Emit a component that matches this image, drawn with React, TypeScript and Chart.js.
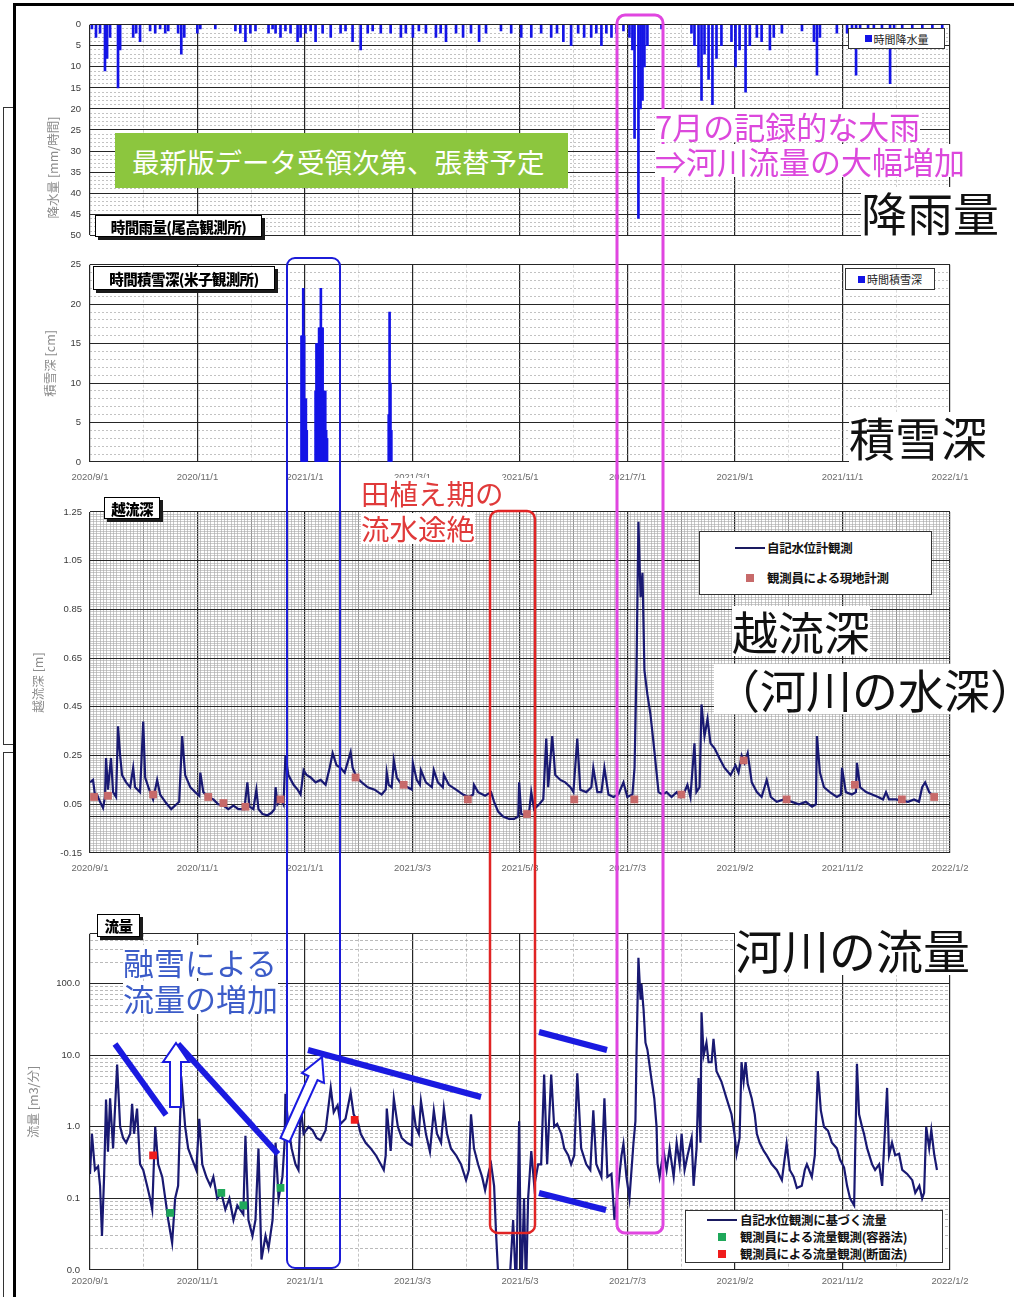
import React, { useEffect, useRef } from "react";
import { Chart, registerables } from "chart.js";

Chart.register(...registerables);
Chart.defaults.font.family = "'Liberation Sans', 'Noto Sans CJK JP', sans-serif";

// ---------------- data ----------------
// x values are days counted from 2020/9/1
const DAY_MAX = 488; // 2022/1/2

const snowXLabels = ["2020/9/1", "2020/11/1", "2021/1/1", "2021/3/1", "2021/5/1", "2021/7/1", "2021/9/1", "2021/11/1", "2022/1/1"];
const depthXLabels = ["2020/9/1", "2020/11/1", "2021/1/1", "2021/3/3", "2021/5/3", "2021/7/3", "2021/9/2", "2021/11/2", "2022/1/2"];
const flowXLabels = ["2020/9/1", "2020/11/1", "2021/1/1", "2021/3/3", "2021/5/3", "2021/7/3", "2021/9/2", "2021/11/2", "2022/1/2"];

const rainYLabels = ["0", "5", "10", "15", "20", "25", "30", "35", "40", "45", "50"];
const snowYLabels = ["0", "5", "10", "15", "20", "25"];
const depthYLabels = ["-0.15", "0.05", "0.25", "0.45", "0.65", "0.85", "1.05", "1.25"];
const flowYLabels = ["0.0", "0.1", "1.0", "10.0", "100.0"];

type Pt = [number, number];

// hourly rainfall [mm/h]
const rainData: Pt[] = [
  [1.1, 1], [3.4, 3], [5.7, 2], [8.5, 11], [9.7, 8], [11.4, 3], [15.9, 15], [17.1, 6], [24.5, 3], [26.2, 2],
  [28.4, 4], [34.1, 1.5], [37, 2], [39.8, 1], [42.7, 2], [44.4, 1.5], [50, 2], [51.8, 7], [53.5, 3], [60.9, 2],
  [62.6, 1], [71.1, 1], [82.5, 1.5], [85.3, 2], [88.2, 4], [91, 2], [93.9, 1.5], [101.3, 2], [103.6, 1], [105.3, 2],
  [108.1, 3], [110.9, 1.5], [113.8, 2], [117.8, 4], [119.5, 3], [122.3, 2], [125.2, 1.5], [128, 4], [132, 2], [136.6, 3],
  [142.2, 2], [145, 1.5], [149, 4], [153.6, 6], [157.6, 2], [160.4, 1.5], [165, 2], [170.6, 2], [176.4, 3], [179.2, 2],
  [183.2, 3], [186.6, 1.5], [190.6, 2], [196.3, 3], [199, 2], [202, 4], [207.7, 2], [211.7, 3], [216.2, 2], [220.8, 4],
  [224.7, 2], [233.2, 1.5], [239, 2], [244.7, 3], [250.4, 3], [256, 2], [261.7, 3], [265, 2], [268.6, 4], [273, 5],
  [277, 2], [280.4, 3], [284.4, 3], [287.3, 2], [290.2, 5], [293, 2], [295.9, 3], [298.7, 2], [302.7, 1.5], [306.1, 3],
  [307.8, 6], [309, 27], [311.2, 46], [312.4, 20], [313.5, 18], [314.6, 10], [316.3, 5], [324.3, 1], [341.3, 2], [343, 5],
  [345.3, 10], [347, 18], [348.7, 7], [351, 13], [353.2, 19], [355.5, 8], [358.3, 5], [364, 4], [366.3, 10], [368.6, 6],
  [372, 16], [374.4, 5], [378.4, 3], [381.1, 4], [385.8, 6], [388, 3], [392.6, 2], [404, 1.5], [410.8, 4], [412.5, 12],
  [414.2, 3], [423.8, 2], [429.6, 2], [432.4, 3], [434.7, 12], [437, 3], [441.5, 2], [444.8, 3], [449.4, 2], [454, 14],
  [456.3, 3], [460.9, 2], [466.6, 2], [472.3, 3], [478, 2], [483.6, 2],
];

// hourly snow depth [cm]
const snowData: Pt[] = [
  [120, 16], [120.5, 16], [121, 22], [121.5, 16], [122, 8], [122.5, 8], [123, 4],
  [128, 9], [128.5, 15], [129, 15], [129.5, 15], [130, 17], [130.5, 17], [131, 22], [131.5, 17], [132, 17],
  [132.5, 9], [133, 9], [133.5, 9], [134, 4], [134.5, 3],
  [169.5, 6], [170, 19], [170.5, 10], [171, 4],
];

// overflow depth, water level logger [m]
const depthLogger: Pt[] = [
  [0, 0.14], [1.7, 0.15], [2.8, 0.09], [4, 0.09], [5.7, 0.06], [7.4, 0.035], [8.5, 0.08], [9.1, 0.24], [10.2, 0.11], [11.9, 0.24],
  [13.1, 0.1], [14.8, 0.08], [15.9, 0.37], [17.1, 0.25], [18.2, 0.17], [20.5, 0.14], [22.8, 0.12], [24.5, 0.2], [25.6, 0.12], [28.4, 0.1],
  [30.2, 0.39], [31.3, 0.16], [33.6, 0.11], [35.8, 0.07], [38.1, 0.15], [39.8, 0.09], [43.2, 0.055], [46.1, 0.03], [48.3, 0.045], [50.6, 0.06],
  [52.3, 0.33], [54, 0.17], [56.9, 0.12], [59.7, 0.1], [62, 0.085], [62.6, 0.18], [64.3, 0.1], [67.1, 0.08], [70, 0.07], [72.8, 0.05],
  [75.7, 0.045], [78.5, 0.03], [81.4, 0.045], [84.2, 0.03], [87.6, 0.03], [89.3, 0.14], [90.5, 0.04], [92.7, 0.03], [94.4, 0.11], [95.6, 0.03],
  [97.9, 0.01], [100.7, 0.005], [103, 0.015], [104.7, 0.03], [105.3, 0.12], [106.4, 0.05], [108.6, 0.07], [109.8, 0.05], [110.9, 0.25], [112.6, 0.17],
  [115.5, 0.13], [117.8, 0.11], [119.5, 0.09], [121.2, 0.19], [122.9, 0.17], [125.2, 0.16], [128, 0.14], [130.9, 0.15], [133.7, 0.13], [136, 0.2],
  [137.7, 0.26], [139.9, 0.21], [142.2, 0.2], [144.5, 0.18], [147.9, 0.265], [149, 0.2], [151.3, 0.16], [154.2, 0.14], [157.6, 0.12], [161.5, 0.11],
  [165.5, 0.09], [167.8, 0.11], [168.4, 0.18], [169.5, 0.13], [171.2, 0.12], [172.4, 0.23], [174.1, 0.16], [176.9, 0.13], [180.3, 0.12], [182.6, 0.11],
  [183.2, 0.22], [185.4, 0.15], [187.2, 0.13], [187.8, 0.19], [190.6, 0.14], [194, 0.12], [195.1, 0.19], [197.4, 0.14], [200.2, 0.12], [200.8, 0.17],
  [203.6, 0.13], [207.7, 0.11], [211.7, 0.09], [215, 0.08], [217.4, 0.09], [217.9, 0.13], [220.2, 0.1], [224.2, 0.085], [227.6, 0.1], [229.3, 0.06],
  [231.6, 0.02], [234.4, 0.0], [237.8, -0.01], [240.7, -0.01], [243, 0.0], [243.5, 0.14], [244.7, 0.01], [246.9, 0.005], [249.2, 0.02], [250.4, 0.1],
  [252, 0.03], [254.9, 0.05], [257.2, 0.07], [258.9, 0.32], [260, 0.12], [262.3, 0.33], [264, 0.17], [266.9, 0.15], [269.7, 0.14], [272.6, 0.12],
  [274.3, 0.1], [276.5, 0.32], [278.2, 0.11], [281.6, 0.1], [284.5, 0.12], [285.6, 0.2], [287.9, 0.1], [290.2, 0.1], [291.9, 0.2], [294.2, 0.09],
  [297, 0.08], [299.8, 0.09], [302.7, 0.14], [304.9, 0.08], [307.8, 0.09], [309, 0.2], [310.1, 0.6], [311.2, 1.21], [312.4, 0.9], [313.5, 1.0],
  [314.6, 0.6], [316.3, 0.5], [318, 0.42], [319.8, 0.3], [321.5, 0.18], [322.6, 0.1], [324.9, 0.09], [327.2, 0.1], [330, 0.08], [332.9, 0.1],
  [335, 0.08], [337.3, 0.1], [339, 0.13], [340.7, 0.08], [343, 0.3], [344.1, 0.1], [345.9, 0.12], [347, 0.46], [348.7, 0.33], [350.4, 0.4],
  [352.1, 0.3], [354.4, 0.28], [357.1, 0.24], [360, 0.2], [363.5, 0.17], [366.3, 0.21], [368, 0.18], [369.8, 0.25], [371.4, 0.22], [373.2, 0.26],
  [375.5, 0.14], [378.4, 0.1], [381.1, 0.08], [384, 0.15], [386.3, 0.08], [389.7, 0.06], [393.7, 0.07], [398.3, 0.06], [402.3, 0.05], [406.2, 0.06],
  [409.7, 0.04], [411.9, 0.05], [412.5, 0.33], [414.2, 0.18], [416.5, 0.12], [419.8, 0.1], [423.8, 0.08], [426.1, 0.09], [426.7, 0.2], [428.9, 0.1],
  [432.3, 0.09], [434.6, 0.1], [435.2, 0.22], [437, 0.12], [440.4, 0.1], [443.8, 0.09], [447.2, 0.08], [450, 0.07], [451.7, 0.1], [453.4, 0.07],
  [457.3, 0.07], [460.7, 0.065], [464.2, 0.06], [467.6, 0.07], [470.4, 0.06], [472.2, 0.12], [473.9, 0.14], [476.2, 0.1], [479, 0.08], [481.2, 0.08],
];

// overflow depth, field measurements by observers [m]
const depthObserved: Pt[] = [
  [2.3, 0.08], [10.2, 0.085], [35.8, 0.09], [67.1, 0.08], [75.7, 0.055], [88.2, 0.04], [108.1, 0.07], [150.7, 0.16], [178, 0.13], [214.4, 0.07],
  [248, 0.01], [274.8, 0.07], [308.9, 0.07], [335.6, 0.09], [370.9, 0.23], [395.3, 0.07], [434, 0.13], [460.7, 0.07], [479, 0.08],
];

// river discharge from water level logger [m3/min]
const flowLogger: Pt[] = [
  [0, 0.22], [1.1, 0.8], [2.8, 0.25], [4.6, 0.28], [5.7, 0.15], [6.8, 0.03], [8, 0.2], [9.1, 2.4], [10.2, 0.45], [11.4, 2.5],
  [13.1, 0.5], [15.4, 7.4], [17.1, 1.0], [18.8, 0.7], [20.5, 0.6], [22.8, 0.8], [23.9, 2.1], [25, 0.8], [26.7, 1.8], [28.4, 0.3],
  [30.2, 0.25], [32.4, 0.15], [34.1, 0.1], [35.3, 0.07], [37, 1.0], [38.7, 0.3], [41, 0.2], [42.7, 0.1], [44.4, 0.05], [46.6, 0.024],
  [48.3, 0.1], [50, 0.15], [51.8, 5], [54, 1.0], [55.7, 0.5], [58, 0.35], [60.3, 0.25], [62, 1.3], [63.7, 0.3], [66, 0.2],
  [68.3, 0.15], [70, 0.2], [72.2, 0.1], [74.5, 0.12], [76.8, 0.07], [79.1, 0.1], [81.4, 0.05], [83.6, 0.08], [87, 0.06], [88.2, 0.75],
  [89.9, 0.05], [92.2, 0.03], [93.9, 0.05], [95.6, 0.5], [97.3, 0.014], [99.6, 0.03], [101.3, 0.02], [103.6, 0.05], [105.3, 0.6], [107, 0.1],
  [109.2, 0.2], [110.4, 0.6], [110.9, 2.9], [112.6, 1.0], [114.4, 0.5], [116.6, 0.3], [118.3, 0.25], [119.5, 2.0], [121.2, 0.8], [124, 1.0],
  [126.3, 0.9], [128.6, 0.7], [130.9, 0.65], [133.7, 0.9], [136.6, 3.5], [138.3, 1.6], [140.5, 2.0], [142.2, 1.1], [145, 1.3], [147.9, 3.0],
  [149.6, 1.5], [151.9, 1.2], [153.6, 0.8], [156.4, 0.6], [159.3, 0.5], [162.2, 0.4], [165, 0.3], [166.7, 0.25], [167.8, 0.4], [168.4, 1.8],
  [170.6, 0.46], [172.4, 2.5], [174.7, 1.0], [176.9, 0.7], [179.8, 0.6], [182.6, 0.55], [183.2, 2.0], [184.9, 1.0], [186.6, 0.8], [187.8, 2.3],
  [190.6, 0.8], [192.9, 0.45], [195.1, 1.7], [196.9, 0.8], [199.2, 0.6], [200.8, 1.8], [202.6, 0.8], [204.8, 0.5], [207.7, 0.4], [210.5, 0.3],
  [213.4, 0.18], [215, 0.25], [216.2, 1.5], [217.9, 0.5], [220.2, 0.3], [222.5, 0.2], [224.2, 0.13], [226.5, 0.25], [227.6, 0.3], [229.3, 0.15],
  [230.4, 0.033], [232.1, 0.005], [235.5, 0.008], [237.8, 0.005], [240.1, 0.05], [241.8, 0.005], [243.5, 1.2], [244.7, 0.005], [246.3, 0.1], [247.4, 0.005],
  [248.6, 0.1], [250.4, 0.46], [252.1, 0.15], [254.3, 0.3], [256, 0.3], [257.7, 5.4], [259.4, 0.3], [261.7, 5.4], [263.4, 1.0], [265.1, 1.1],
  [267.4, 0.8], [269.1, 0.5], [271.4, 0.4], [273, 0.3], [274.8, 0.4], [276.5, 5.6], [278.7, 0.5], [281.6, 0.3], [283.9, 0.25], [285.6, 1.7],
  [287.3, 0.3], [290.2, 0.2], [291.9, 2.5], [293.6, 0.2], [295.9, 0.22], [297.6, 0.05], [299.8, 0.15], [301.6, 0.4], [302.7, 0.58], [304.4, 0.2],
  [306.1, 0.1], [308.4, 0.6], [309.5, 1.2], [310.1, 10], [311.2, 230], [312.4, 60], [312.9, 100], [314.1, 44], [315.2, 15], [316.3, 12],
  [318.5, 4.8], [320.2, 2.5], [321.5, 1.0], [322, 0.31], [323.2, 0.2], [324.3, 0.3], [325.5, 0.46], [327.2, 0.25], [328.9, 0.5], [331.2, 0.2],
  [332.9, 0.6], [334.6, 0.3], [335.7, 0.8], [337.4, 0.25], [339.1, 0.4], [341.4, 0.7], [342.5, 0.15], [344.2, 0.5], [345.3, 4.8], [346.4, 0.6],
  [347, 40], [348.2, 10], [349.8, 15], [351, 8], [352.7, 8], [353.8, 17], [355.5, 6], [358.3, 4.3], [361.2, 2.5], [364, 1.5],
  [365.7, 0.8], [366.9, 0.42], [368.6, 0.7], [369.7, 8], [370.9, 4.3], [372, 8], [373.2, 4], [375.5, 2.5], [377.2, 1.5], [378.4, 0.8],
  [380, 0.6], [382.3, 0.46], [384, 0.4], [386.9, 0.3], [389.7, 0.25], [392.6, 0.18], [395.3, 0.58], [397.1, 0.25], [399.3, 0.2], [401.1, 0.14],
  [403.9, 0.15], [405.6, 0.25], [406.8, 0.3], [409.6, 0.2], [411.3, 0.4], [413, 6], [414.7, 1.7], [416.5, 1.0], [418.8, 0.88], [421, 0.6],
  [423.8, 0.5], [425.6, 0.35], [427.9, 0.27], [429.6, 0.15], [431.3, 0.1], [433.6, 0.08], [435.2, 7.6], [436.4, 1.5], [438.1, 1.0], [439.2, 0.8],
  [441, 0.5], [443.8, 0.3], [445.5, 0.25], [447.8, 0.3], [449.5, 0.15], [452.3, 3.5], [453.4, 0.4], [455.1, 0.6], [456.9, 0.4], [459.1, 0.42],
  [460.9, 0.25], [463.7, 0.22], [466.6, 0.18], [468.3, 0.12], [470.6, 0.15], [472.2, 0.1], [473.3, 0.12], [474.5, 1.0], [476.2, 0.5], [477.4, 0.9],
  [479, 0.42], [480.6, 0.25],
];

// discharge measured by observers: container method (green) and cross-section method (red)
const flowContainer: Pt[] = [[45.5, 0.063], [74.5, 0.12], [87, 0.08], [108.1, 0.14]];
const flowSection: Pt[] = [[35.8, 0.4], [150.2, 1.25]];

// ---------------- styles ----------------
const NAVY = "#191972";
const RAIN_BLUE = "#1414e6";
const OBS_PINK = "#c76a6a";
const OBS_GREEN = "#1fa85a";
const OBS_RED = "#f01c1c";
const GRID_MAJOR = "#262626";
const TICK_FONT = { size: 9.5, family: "'Liberation Sans', Arial, sans-serif" };
const TITLE_FONT = { size: 12.5, family: "'Noto Sans CJK JP', sans-serif" };
const CJK = "'Noto Sans CJK JP', 'Noto Sans CJK SC', sans-serif";

const toXY = (a: Pt[]) => a.map(([x, y]) => ({ x, y }));

function xAxis(labels: string[] | null, dense: boolean, padding: number, minorColor: string, dashed: boolean) {
  const n = dense ? 256 : 16;
  const per = n / 8;
  const kind = (i: number) => (i % per === 0 ? 0 : dense && i % (per / 2) === 0 ? 1 : 2);
  return {
    type: "linear",
    min: 0,
    max: DAY_MAX,
    offset: false,
    afterBuildTicks: (s: any) => {
      const t: any[] = [];
      for (let i = 0; i <= n; i++) t.push({ value: (i * DAY_MAX) / n });
      s.ticks = t;
    },
    afterFit: (s: any) => {
      s.height = labels ? 22 : 0;
    },
    ticks: {
      display: !!labels,
      autoSkip: false,
      maxRotation: 0,
      minRotation: 0,
      padding,
      color: "#6a6a6a",
      font: TICK_FONT,
      callback: (_v: any, i: number) => (labels && i % per === 0 ? labels[i / per] : ""),
    },
    grid: {
      drawTicks: false,
      offset: false,
      color: (c: any) => {
        const k = kind(c.index);
        return k === 0 ? GRID_MAJOR : k === 1 ? "#7a7a7a" : minorColor;
      },
      lineWidth: (c: any) => {
        const k = kind(c.index);
        return k === 0 ? 1.2 : k === 1 ? 0.8 : 0.6;
      },
    },
    border: {
      display: false,
      dash: (c: any) => (c && c.tick && dashed && kind(c.index) === 2 ? [3, 2] : []),
    },
  };
}

function yLinear(o: {
  min: number; max: number; n: number; labelEvery: number; labels: string[]; darkIdx?: number[];
  minorColor: string; dashed: boolean; width: number; padding: number; title: string; reverse?: boolean;
}) {
  const kind = (i: number) => (i % o.labelEvery === 0 || (o.darkIdx || []).includes(i) ? 0 : 2);
  return {
    type: "linear",
    min: o.min,
    max: o.max,
    reverse: !!o.reverse,
    afterBuildTicks: (s: any) => {
      const t: any[] = [];
      for (let i = 0; i <= o.n; i++) t.push({ value: Math.round((o.min + (i * (o.max - o.min)) / o.n) * 1000) / 1000 });
      s.ticks = t;
    },
    afterFit: (s: any) => {
      s.width = o.width;
    },
    ticks: {
      autoSkip: false,
      padding: o.padding,
      color: "#3a3a3a",
      font: TICK_FONT,
      callback: (_v: any, i: number) => (i % o.labelEvery === 0 ? o.labels[i / o.labelEvery] : ""),
    },
    grid: {
      drawTicks: false,
      color: (c: any) => (kind(c.index) === 0 ? GRID_MAJOR : o.minorColor),
      lineWidth: (c: any) => (kind(c.index) === 0 ? 1.1 : 0.6),
    },
    border: {
      display: false,
      dash: (c: any) => (c && c.tick && o.dashed && kind(c.index) === 2 ? [2, 2] : []),
    },
    title: { display: true, text: o.title, color: "#8c8c8c", font: TITLE_FONT, padding: { top: 0, bottom: 0 } },
  };
}

const baseOptions = (pad: any) => ({
  responsive: false,
  animation: false,
  events: [],
  layout: { padding: pad },
  plugins: { legend: { display: false }, tooltip: { enabled: false }, title: { display: false } },
});

const rainConfig = (): any => ({
  type: "bar",
  data: {
    datasets: [{ label: "時間降水量", data: toXY(rainData), backgroundColor: RAIN_BLUE, barThickness: 2, borderWidth: 0 }],
  },
  options: {
    ...baseOptions({ left: 31, right: 50, top: 12, bottom: 13 }),
    scales: {
      x: xAxis(null, false, 0, "#b0b0b0", true),
      y: yLinear({
        min: 0, max: 50, n: 50, labelEvery: 5, labels: rainYLabels, minorColor: "#9a9a9a", dashed: true,
        width: 44, padding: 9, title: "降水量 [mm/時間]\u3000\u3000\u3000\u3000\u3000\u3000", reverse: true,
      }),
    },
  },
});

const snowConfig = (): any => ({
  type: "bar",
  data: {
    datasets: [{ label: "時間積雪深", data: toXY(snowData), backgroundColor: RAIN_BLUE, barThickness: 2, borderWidth: 0 }],
  },
  options: {
    ...baseOptions({ left: 28, right: 50, top: 12, bottom: 4 }),
    scales: {
      x: xAxis(snowXLabels, false, 10, "#c4c4c4", true),
      y: yLinear({
        min: 0, max: 25, n: 25, labelEvery: 5, labels: snowYLabels, minorColor: "#9a9a9a", dashed: true,
        width: 47, padding: 9, title: "積雪深 [cm]",
      }),
    },
  },
});

const depthConfig = (): any => ({
  type: "line",
  data: {
    datasets: [
      { label: "観測員による現地計測", data: toXY(depthObserved), showLine: false, pointStyle: "rect", pointRadius: 5.5, backgroundColor: OBS_PINK, borderWidth: 0, order: 0 },
      { label: "自記水位計観測", data: toXY(depthLogger), borderColor: NAVY, borderWidth: 2.2, pointRadius: 0, tension: 0, fill: false, order: 1 },
    ],
  },
  options: {
    ...baseOptions({ left: 16, right: 50, top: 14, bottom: 4 }),
    scales: {
      x: xAxis(depthXLabels, true, 10, "#a4a4a4", false),
      y: yLinear({
        min: -0.15, max: 1.25, n: 140, labelEvery: 20, labels: depthYLabels, darkIdx: [15], minorColor: "#a8a8a8", dashed: false,
        width: 59, padding: 8, title: "越流深 [m]",
      }),
    },
  },
});

const flowConfig = (): any => ({
  type: "line",
  data: {
    datasets: [
      { label: "観測員による流量観測(容器法)", data: toXY(flowContainer), showLine: false, pointStyle: "rect", pointRadius: 5.5, backgroundColor: OBS_GREEN, borderWidth: 0, order: 0 },
      { label: "観測員による流量観測(断面法)", data: toXY(flowSection), showLine: false, pointStyle: "rect", pointRadius: 5.5, backgroundColor: OBS_RED, borderWidth: 0, order: 0 },
      { label: "自記水位観測に基づく流量", data: toXY(flowLogger), borderColor: NAVY, borderWidth: 2.2, pointRadius: 0, tension: 0, fill: false, order: 1 },
    ],
  },
  options: {
    ...baseOptions({ left: 11, right: 50, top: 12, bottom: 0 }),
    scales: {
      x: xAxis(flowXLabels, false, 6, "#9a9a9a", true),
      y: {
        type: "logarithmic",
        min: 0.01,
        max: 500,
        afterBuildTicks: (s: any) => {
          const t: any[] = [];
          for (let d = -2; d <= 2; d++)
            for (let m = 1; m <= 9; m++) {
              const v = Number((m * Math.pow(10, d)).toPrecision(2));
              if (v <= 500) t.push({ value: v });
            }
          s.ticks = t;
        },
        afterFit: (s: any) => {
          s.width = 64;
        },
        ticks: {
          autoSkip: false,
          padding: 10,
          color: "#3a3a3a",
          font: TICK_FONT,
          callback: (_v: any, i: number) => (i % 9 === 0 ? flowYLabels[i / 9] : ""),
        },
        grid: {
          drawTicks: false,
          color: (c: any) => (c.index % 9 === 0 || c.index === 40 ? GRID_MAJOR : "#9c9c9c"),
          lineWidth: (c: any) => (c.index % 9 === 0 || c.index === 40 ? 1.1 : 0.7),
        },
        border: {
          display: false,
          dash: (c: any) => (c && c.tick && !(c.index % 9 === 0 || c.index === 40) ? [3, 2] : []),
        },
        title: { display: true, text: "流量 [m3/分]", color: "#8c8c8c", font: TITLE_FONT, padding: { top: 0, bottom: 0 } },
      },
    },
  },
});

// ---------------- components ----------------
function ChartCanvas({ left, top, width, height, build }: { left: number; top: number; width: number; height: number; build: () => any }) {
  const ref = useRef<HTMLCanvasElement>(null);
  useEffect(() => {
    const chart = new Chart(ref.current as HTMLCanvasElement, build());
    return () => chart.destroy();
  }, []);
  return <canvas ref={ref} width={width} height={height} style={{ position: "absolute", left, top, width, height }} />;
}

function TitleBox({ left, top, width, height, text }: any) {
  return (
    <div
      style={{
        position: "absolute", left, top, width, height, boxSizing: "border-box", background: "#fff",
        border: "1.5px solid #000", boxShadow: "3px 3px 0 #1a1a1a", fontFamily: CJK, fontWeight: 900,
        fontSize: 14.5, letterSpacing: -0.6, display: "flex", alignItems: "center", justifyContent: "center",
        whiteSpace: "nowrap", color: "#000",
      }}
    >
      {text}
    </div>
  );
}

function SmallLegend({ left, top, width, height, text }: any) {
  return (
    <div
      style={{
        position: "absolute", left, top, width, height, boxSizing: "border-box", background: "#fff",
        border: "1px solid #333", fontFamily: CJK, fontSize: 11, display: "flex", alignItems: "center",
        justifyContent: "center", whiteSpace: "nowrap", color: "#222",
      }}
    >
      <span style={{ display: "inline-block", width: 7, height: 7, background: RAIN_BLUE, marginRight: 2 }} />
      {text}
    </div>
  );
}

function LegendRow({ y, markLeft, textLeft, kind, color, text }: any) {
  return (
    <>
      {kind === "line" ? (
        <div style={{ position: "absolute", left: markLeft, top: y - 1, width: 30, height: 1.5, background: "#1a1a60" }} />
      ) : (
        <div style={{ position: "absolute", left: markLeft, top: y - 4, width: 8, height: 8, background: color }} />
      )}
      <div
        style={{
          position: "absolute", left: textLeft, top: y - 9, height: 18, lineHeight: "18px", fontFamily: CJK,
          fontWeight: 700, fontSize: 12.5, whiteSpace: "nowrap", color: "#111", letterSpacing: -0.3,
        }}
      >
        {text}
      </div>
    </>
  );
}

function Label({ left, top, size, color, text, bg = "#fff" }: any) {
  return (
    <div
      style={{
        position: "absolute", left, top, fontFamily: CJK, fontSize: size, lineHeight: 1.08, color,
        background: bg, whiteSpace: "nowrap", fontWeight: 400,
      }}
    >
      {text}
    </div>
  );
}

export default function App() {
  return (
    <div style={{ position: "absolute", left: 0, top: 0, width: 1014, height: 1297, background: "#fff", overflow: "hidden" }}>
      {/* outer frame and left strip */}
      <div style={{ position: "absolute", left: 14, top: 3, width: 1000, height: 2.5, background: "#000" }} />
      <div style={{ position: "absolute", left: 13, top: 3, width: 2.5, height: 1294, background: "#000" }} />
      <div style={{ position: "absolute", left: 3, top: 107, width: 9, height: 636, borderLeft: "1px solid #333", borderTop: "1px solid #333", borderBottom: "1px solid #333" }} />
      <div style={{ position: "absolute", left: 3, top: 752, width: 9, height: 560, borderLeft: "1px solid #333", borderTop: "1px solid #333" }} />

      <ChartCanvas left={15} top={10} width={985} height={240} build={rainConfig} />
      <ChartCanvas left={15} top={250} width={985} height={238} build={snowConfig} />
      <ChartCanvas left={15} top={498} width={985} height={381} build={depthConfig} />
      <ChartCanvas left={15} top={918} width={985} height={374} build={flowConfig} />

      {/* chart titles and legends */}
      <TitleBox left={95} top={215} width={167} height={22} text="時間雨量(尾高観測所)" />
      <TitleBox left={93} top={266} width={182} height={24} text="時間積雪深(米子観測所)" />
      <TitleBox left={104} top={497} width={56} height={22} text="越流深" />
      <TitleBox left={97} top={914} width={43} height={23} text="流量" />

      <SmallLegend left={848} top={28} width={97} height={21} text="時間降水量" />
      <SmallLegend left={845} top={268} width={90} height={22} text="時間積雪深" />

      <div style={{ position: "absolute", left: 699, top: 531, width: 233, height: 64, boxSizing: "border-box", background: "#fff", border: "1px solid #333" }} />
      <LegendRow y={548} markLeft={735} textLeft={767} kind="line" text="自記水位計観測" />
      <LegendRow y={578} markLeft={746} textLeft={767} kind="rect" color={OBS_PINK} text="観測員による現地計測" />

      <div style={{ position: "absolute", left: 685, top: 1210, width: 258, height: 53, boxSizing: "border-box", background: "#fff", border: "1px solid #333" }} />
      <LegendRow y={1220} markLeft={707} textLeft={740} kind="line" text="自記水位観測に基づく流量" />
      <LegendRow y={1237} markLeft={718} textLeft={740} kind="rect" color={OBS_GREEN} text="観測員による流量観測(容器法)" />
      <LegendRow y={1254} markLeft={718} textLeft={740} kind="rect" color={OBS_RED} text="観測員による流量観測(断面法)" />

      {/* annotation shapes */}
      <svg width={1014} height={1297} style={{ position: "absolute", left: 0, top: 0 }}>
        <rect x={287} y={258} width={53} height={1010} rx={8} fill="none" stroke="#1c1cd8" strokeWidth={2} />
        <rect x={490} y={511} width={45} height={722} rx={8} fill="none" stroke="#e02424" strokeWidth={2.5} />
        <rect x={617} y={15} width={46} height={1218} rx={8} fill="none" stroke="#e046e0" strokeWidth={3} />
        <g stroke="#1a1ae0" strokeWidth={6} strokeLinecap="butt">
          <line x1={115} y1={1044} x2={166} y2={1115} />
          <line x1={178} y1={1044} x2={278} y2={1154} />
          <line x1={308} y1={1050} x2={481} y2={1097} />
          <line x1={539} y1={1032} x2={607} y2={1050} />
          <line x1={539} y1={1193} x2={606} y2={1210} />
        </g>
        <polygon points="170,1107 181,1107 181,1062 189,1062 176,1043 163,1062 170,1062" fill="#fff" stroke="#1a1ae0" strokeWidth={2} />
        <polygon points="280.5,1138 308.5,1076 302,1073 322,1057 324,1083 317.5,1080 289.5,1142" fill="#fff" stroke="#1a1ae0" strokeWidth={2} />
      </svg>

      {/* annotation texts */}
      <div
        style={{
          position: "absolute", left: 115, top: 133, width: 453, height: 55, background: "#8cc63e", color: "#fff",
          fontFamily: CJK, fontSize: 27.5, display: "flex", alignItems: "center", paddingLeft: 17, boxSizing: "border-box", whiteSpace: "nowrap",
        }}
      >
        最新版データ受領次第、張替予定
      </div>
      <Label left={655} top={109} size={31} color="#dc48dc" text="7月の記録的な大雨" />
      <Label left={655} top={144} size={31} color="#dc48dc" text="⇒河川流量の大幅増加" />
      <Label left={861} top={187} size={46} color="#111" text="降雨量" />
      <Label left={849} top={412} size={46} color="#111" text="積雪深" />
      <Label left={361} top={478} size={28.5} color="#e03a3a" text="田植え期の" />
      <Label left={361} top={513} size={28.5} color="#e03a3a" text="流水途絶" />
      <Label left={732} top={606} size={46} color="#111" text="越流深" />
      <Label left={714} top={664} size={46} color="#111" text="（河川の水深）" />
      <Label left={735} top={924} size={47} color="#111" text="河川の流量" />
      <Label left={123} top={945} size={31} color="#3c5cc8" text="融雪による" />
      <Label left={123} top={981} size={31} color="#3c5cc8" text="流量の増加" />
    </div>
  );
}
